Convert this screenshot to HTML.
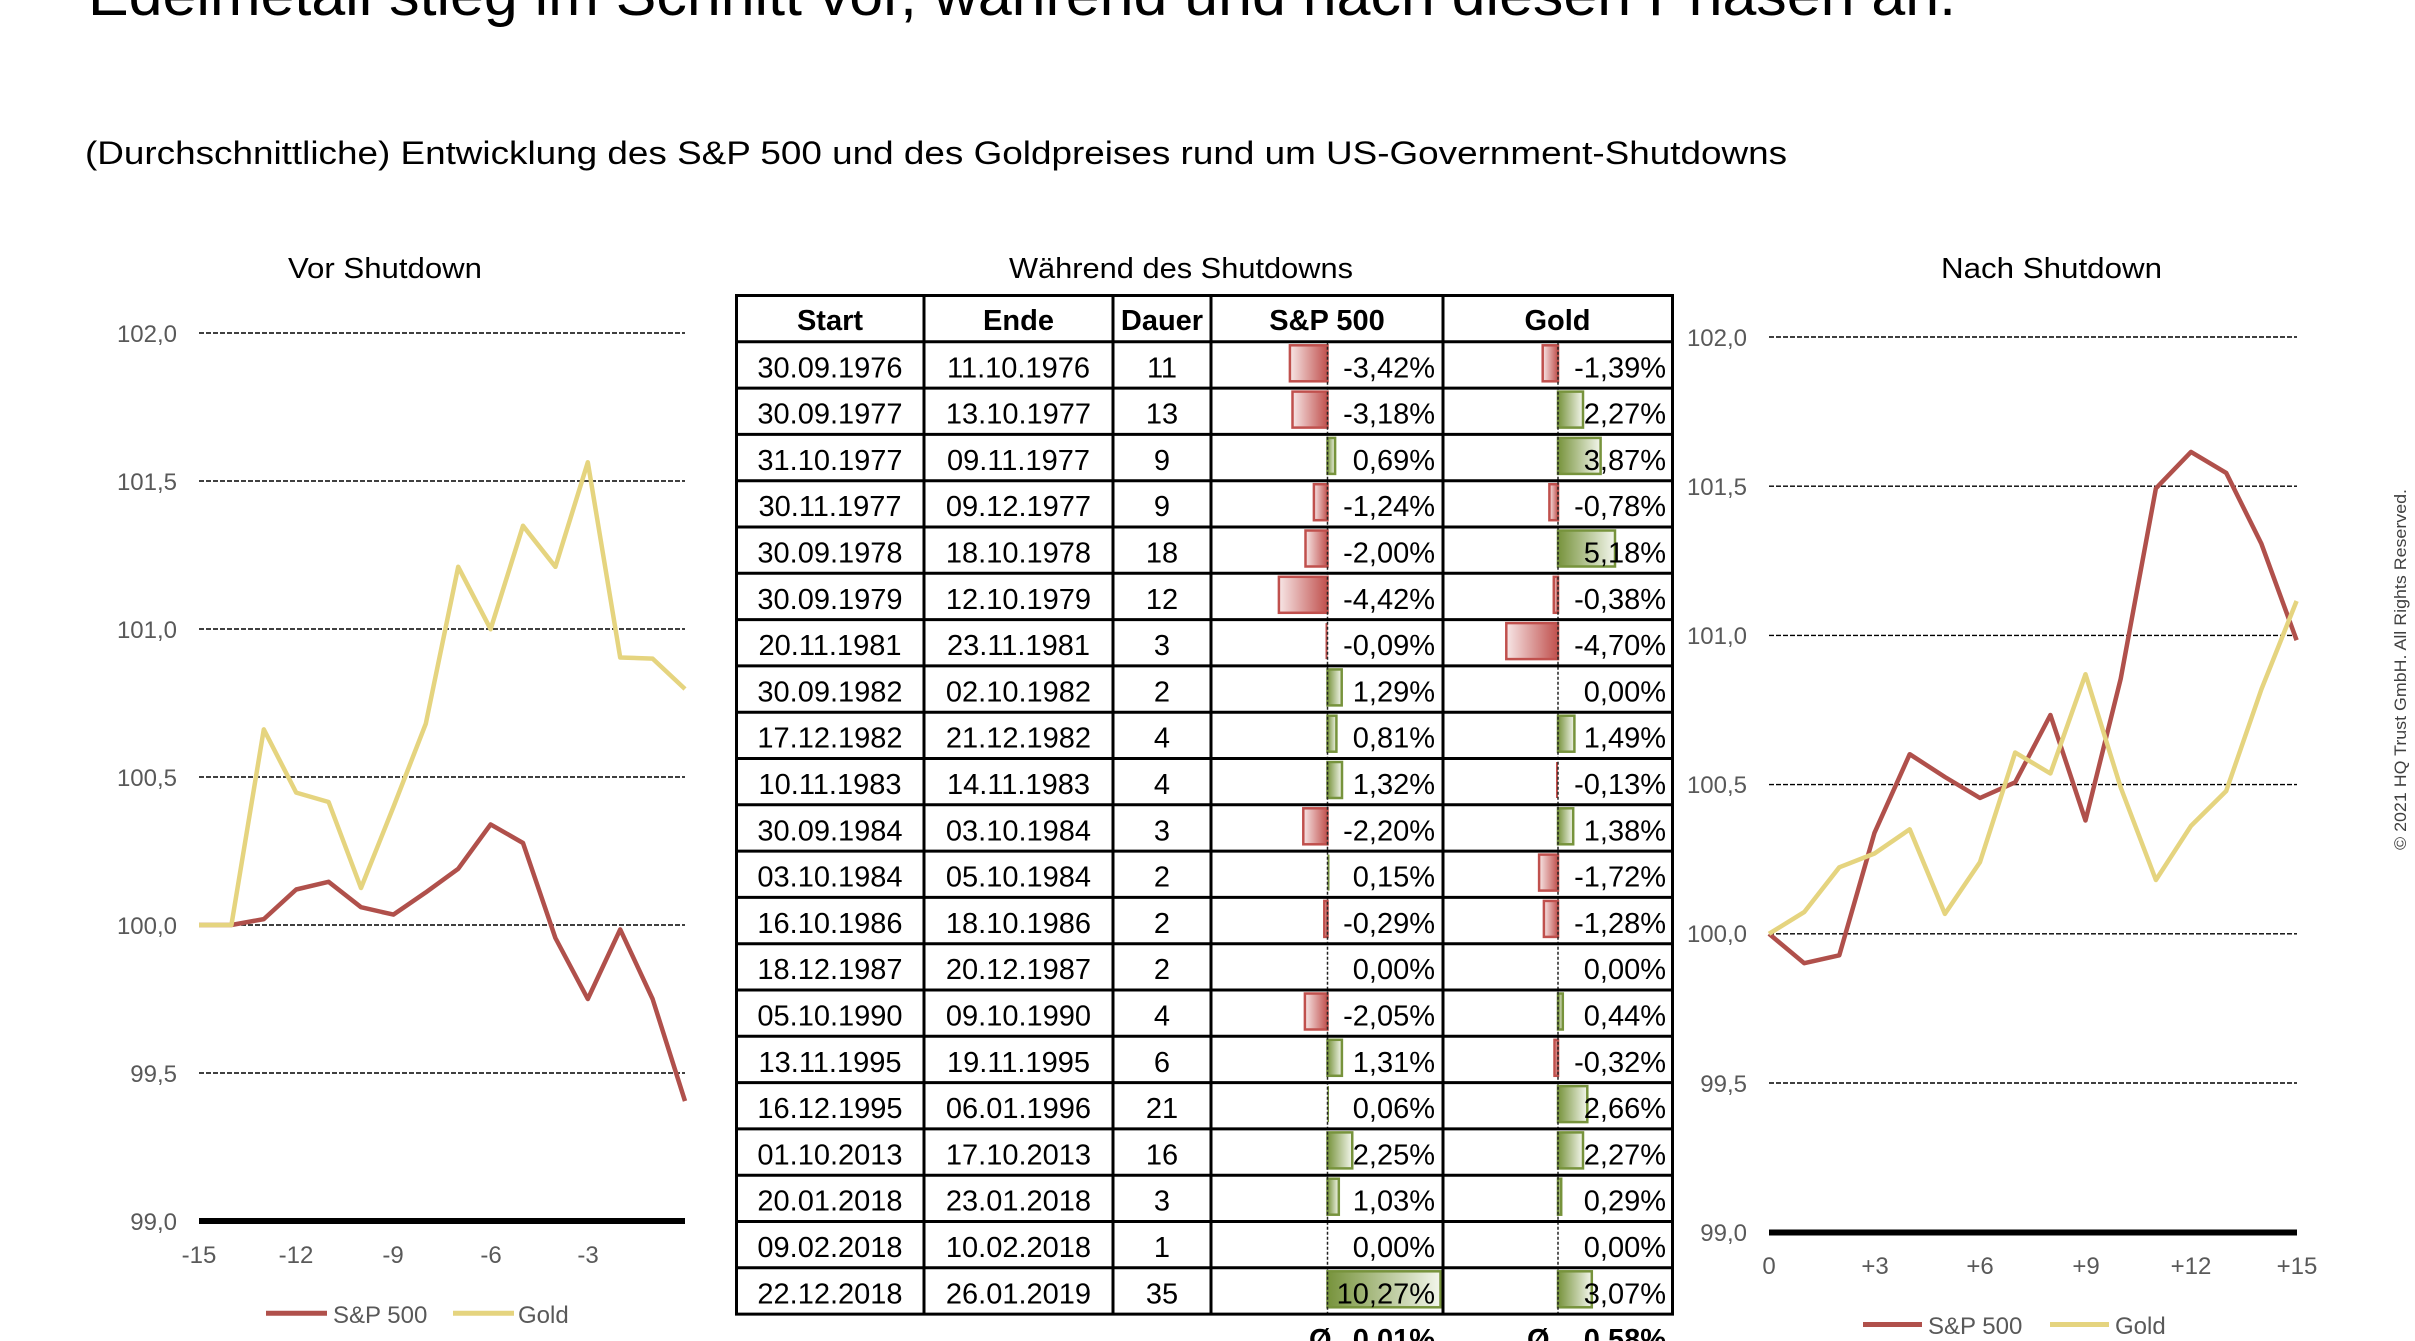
<!DOCTYPE html>
<html>
<head>
<meta charset="utf-8">
<style>
html,body{margin:0;padding:0;background:#fff;}
svg{display:block;}
text{font-family:"Liberation Sans",Arial,sans-serif;}
.ax{font-size:24px;fill:#595959;}
.tb{font-size:29px;fill:#000;}
.th{font-size:29px;fill:#000;font-weight:bold;}
.ct{font-size:29px;fill:#000;}
</style>
</head>
<body>
<svg width="2415" height="1341" viewBox="0 0 2415 1341" xmlns="http://www.w3.org/2000/svg">
<defs>
<linearGradient id="gr" x1="0" x2="1" y1="0" y2="0">
<stop offset="0" stop-color="#f7e6e6"/>
<stop offset="1" stop-color="#c0504d"/>
</linearGradient>
<linearGradient id="gg" x1="0" x2="1" y1="0" y2="0">
<stop offset="0" stop-color="#77933c"/>
<stop offset="1" stop-color="#f3f6ec"/>
</linearGradient>
</defs>
<rect width="2415" height="1341" fill="#fff"/>

<!-- Title -->
<text x="88" y="15" font-size="58" textLength="1868" lengthAdjust="spacingAndGlyphs" fill="#000">Edelmetall stieg im Schnitt vor, während und nach diesen Phasen an.</text>
<text x="85" y="164" font-size="32" textLength="1702" lengthAdjust="spacingAndGlyphs" fill="#000">(Durchschnittliche) Entwicklung des S&amp;P 500 und des Goldpreises rund um US-Government-Shutdowns</text>

<!-- Chart titles -->
<text class="ct" x="288" y="278" textLength="194" lengthAdjust="spacingAndGlyphs">Vor Shutdown</text>
<text class="ct" x="1009" y="278" textLength="344" lengthAdjust="spacingAndGlyphs">Während des Shutdowns</text>
<text class="ct" x="1941" y="278" textLength="221" lengthAdjust="spacingAndGlyphs">Nach Shutdown</text>

<!-- ============ LEFT CHART ============ -->
<g stroke="#000" stroke-width="1.4" stroke-dasharray="5 2">
<line x1="199" y1="333" x2="685" y2="333"/>
<line x1="199" y1="481" x2="685" y2="481"/>
<line x1="199" y1="629" x2="685" y2="629"/>
<line x1="199" y1="777" x2="685" y2="777"/>
<line x1="199" y1="925" x2="685" y2="925"/>
<line x1="199" y1="1073" x2="685" y2="1073"/>
</g>
<line x1="199" y1="1221" x2="685" y2="1221" stroke="#000" stroke-width="6"/>
<g class="ax" text-anchor="end">
<text x="177" y="342">102,0</text>
<text x="177" y="490">101,5</text>
<text x="177" y="638">101,0</text>
<text x="177" y="786">100,5</text>
<text x="177" y="934">100,0</text>
<text x="177" y="1082">99,5</text>
<text x="177" y="1230">99,0</text>
</g>
<g class="ax" text-anchor="middle">
<text x="199" y="1263">-15</text>
<text x="296" y="1263">-12</text>
<text x="393" y="1263">-9</text>
<text x="491" y="1263">-6</text>
<text x="588" y="1263">-3</text>
</g>
<polyline fill="none" stroke="#b0504b" stroke-width="4.5" stroke-linejoin="round" points="199,925 231.4,925 263.8,919.1 296.2,889.5 328.6,881.8 361,907.2 393.4,914.6 425.8,892.4 458.2,868.8 490.6,824.4 523,843 555.4,938 587.8,999 620.2,929.4 652.6,999 685,1101.1"/>
<polyline fill="none" stroke="#e5d47f" stroke-width="4.5" stroke-linejoin="round" points="199,925 231.4,925 263.8,729.4 296.2,792.6 328.6,802 361,888 393.4,807 425.8,723.7 458.2,566.8 490.6,629.2 523,525.8 555.4,566.8 587.8,462.3 620.2,657.5 652.6,658.6 685,689"/>
<line x1="266" y1="1313.3" x2="327" y2="1313.3" stroke="#b0504b" stroke-width="5"/>
<text class="ax" x="333" y="1323">S&amp;P 500</text>
<line x1="453" y1="1313.3" x2="514" y2="1313.3" stroke="#e5d47f" stroke-width="5"/>
<text class="ax" x="518" y="1323">Gold</text>

<!-- ============ RIGHT CHART ============ -->
<g stroke="#000" stroke-width="1.4" stroke-dasharray="5 2">
<line x1="1769" y1="337" x2="2297" y2="337"/>
<line x1="1769" y1="486.2" x2="2297" y2="486.2"/>
<line x1="1769" y1="635.4" x2="2297" y2="635.4"/>
<line x1="1769" y1="784.6" x2="2297" y2="784.6"/>
<line x1="1769" y1="933.8" x2="2297" y2="933.8"/>
<line x1="1769" y1="1083" x2="2297" y2="1083"/>
</g>
<line x1="1769" y1="1232.5" x2="2297" y2="1232.5" stroke="#000" stroke-width="6"/>
<g class="ax" text-anchor="end">
<text x="1747" y="346">102,0</text>
<text x="1747" y="495">101,5</text>
<text x="1747" y="644">101,0</text>
<text x="1747" y="793">100,5</text>
<text x="1747" y="942">100,0</text>
<text x="1747" y="1092">99,5</text>
<text x="1747" y="1241">99,0</text>
</g>
<g class="ax" text-anchor="middle">
<text x="1769" y="1274">0</text>
<text x="1875" y="1274">+3</text>
<text x="1980" y="1274">+6</text>
<text x="2086" y="1274">+9</text>
<text x="2191" y="1274">+12</text>
<text x="2297" y="1274">+15</text>
</g>
<polyline fill="none" stroke="#b0504b" stroke-width="4.5" stroke-linejoin="round" points="1769,933.8 1804.2,963.2 1839.3,955.3 1874.5,832.8 1909.7,754.2 1944.9,777 1980,798 2015.2,782.3 2050.4,715 2085.5,820.5 2120.7,678.8 2155.9,488.4 2191,451.9 2226.2,472.9 2261.4,543.8 2296.6,640.2"/>
<polyline fill="none" stroke="#e5d47f" stroke-width="4.5" stroke-linejoin="round" points="1769,933.8 1804.2,912.1 1839.3,867.3 1874.5,853.5 1909.7,829.3 1944.9,913.9 1980,862.1 2015.2,752.5 2050.4,773.5 2085.5,674.3 2120.7,787.5 2155.9,880 2191,825.9 2226.2,791 2261.4,689.3 2296.6,601"/>
<line x1="1863" y1="1324.5" x2="1922" y2="1324.5" stroke="#b0504b" stroke-width="5"/>
<text class="ax" x="1928" y="1334">S&amp;P 500</text>
<line x1="2050" y1="1324.5" x2="2109" y2="1324.5" stroke="#e5d47f" stroke-width="5"/>
<text class="ax" x="2115" y="1334">Gold</text>

<!-- Copyright -->
<text transform="translate(2406,850) rotate(-90)" font-size="17" fill="#404040" textLength="361" lengthAdjust="spacingAndGlyphs">© 2021 HQ Trust GmbH. All Rights Reserved.</text>

<!-- ============ TABLE ============ -->
<!-- bars S&P (axis 1327.5) -->
<g stroke="#c0504d" stroke-width="2.5" fill="url(#gr)">
<rect x="1289.9" y="345.3" width="37.6" height="36"/>
<rect x="1292.5" y="391.6" width="35" height="36"/>
<rect x="1313.9" y="484.2" width="13.6" height="36"/>
<rect x="1305.5" y="530.5" width="22" height="36"/>
<rect x="1278.9" y="576.8" width="48.6" height="36"/>
<rect x="1303.3" y="808.3" width="24.2" height="36"/>
<rect x="1324.3" y="900.9" width="3.2" height="36"/>
<rect x="1304.9" y="993.5" width="22.6" height="36"/>
</g>
<rect x="1325.5" y="623.1" width="2" height="36" fill="#c0504d"/>
<g stroke="#77933c" stroke-width="2.5" fill="url(#gg)">
<rect x="1327.5" y="437.9" width="7.6" height="36"/>
<rect x="1327.5" y="669.4" width="14.2" height="36"/>
<rect x="1327.5" y="715.7" width="8.9" height="36"/>
<rect x="1327.5" y="762" width="14.5" height="36"/>
<rect x="1327.5" y="1039.8" width="14.4" height="36"/>
<rect x="1327.5" y="1132.4" width="24.75" height="36"/>
<rect x="1327.5" y="1178.7" width="11.3" height="36"/>
<rect x="1327.5" y="1271.3" width="113" height="36"/>
</g>
<rect x="1327.5" y="854.6" width="2" height="36" fill="#77933c"/>
<rect x="1327.5" y="1086.1" width="1.5" height="36" fill="#77933c"/>

<!-- bars Gold (axis 1558) -->
<g stroke="#c0504d" stroke-width="2.5" fill="url(#gr)">
<rect x="1542.7" y="345.3" width="15.3" height="36"/>
<rect x="1549.4" y="484.2" width="8.6" height="36"/>
<rect x="1553.8" y="576.8" width="4.2" height="36"/>
<rect x="1506.3" y="623.1" width="51.7" height="36"/>
<rect x="1539.1" y="854.6" width="18.9" height="36"/>
<rect x="1543.9" y="900.9" width="14.1" height="36"/>
<rect x="1554.5" y="1039.8" width="3.5" height="36"/>
</g>
<rect x="1556" y="762" width="2" height="36" fill="#c0504d"/>
<g stroke="#77933c" stroke-width="2.5" fill="url(#gg)">
<rect x="1558" y="391.6" width="25" height="36"/>
<rect x="1558" y="437.9" width="42.6" height="36"/>
<rect x="1558" y="530.5" width="57" height="36"/>
<rect x="1558" y="715.7" width="16.4" height="36"/>
<rect x="1558" y="808.3" width="15.2" height="36"/>
<rect x="1558" y="993.5" width="4.8" height="36"/>
<rect x="1558" y="1086.1" width="29.3" height="36"/>
<rect x="1558" y="1132.4" width="25" height="36"/>
<rect x="1558" y="1178.7" width="3.2" height="36"/>
<rect x="1558" y="1271.3" width="33.8" height="36"/>
</g>

<!-- dashed zero axes -->
<g stroke="#222" stroke-width="1.5" stroke-dasharray="3 2">
<line x1="1327.5" y1="341.8" x2="1327.5" y2="1314.1"/>
<line x1="1558" y1="341.8" x2="1558" y2="1314.1"/>
</g>

<!-- grid lines -->
<g stroke="#000" stroke-width="3">
<line x1="735" y1="295.5" x2="1674" y2="295.5"/>
<line x1="735" y1="341.8" x2="1674" y2="341.8"/>
<line x1="735" y1="388.1" x2="1674" y2="388.1"/>
<line x1="735" y1="434.4" x2="1674" y2="434.4"/>
<line x1="735" y1="480.7" x2="1674" y2="480.7"/>
<line x1="735" y1="527" x2="1674" y2="527"/>
<line x1="735" y1="573.3" x2="1674" y2="573.3"/>
<line x1="735" y1="619.6" x2="1674" y2="619.6"/>
<line x1="735" y1="665.9" x2="1674" y2="665.9"/>
<line x1="735" y1="712.2" x2="1674" y2="712.2"/>
<line x1="735" y1="758.5" x2="1674" y2="758.5"/>
<line x1="735" y1="804.8" x2="1674" y2="804.8"/>
<line x1="735" y1="851.1" x2="1674" y2="851.1"/>
<line x1="735" y1="897.4" x2="1674" y2="897.4"/>
<line x1="735" y1="943.7" x2="1674" y2="943.7"/>
<line x1="735" y1="990" x2="1674" y2="990"/>
<line x1="735" y1="1036.3" x2="1674" y2="1036.3"/>
<line x1="735" y1="1082.6" x2="1674" y2="1082.6"/>
<line x1="735" y1="1128.9" x2="1674" y2="1128.9"/>
<line x1="735" y1="1175.2" x2="1674" y2="1175.2"/>
<line x1="735" y1="1221.5" x2="1674" y2="1221.5"/>
<line x1="735" y1="1267.8" x2="1674" y2="1267.8"/>
<line x1="735" y1="1314.1" x2="1674" y2="1314.1"/>
<line x1="736.5" y1="294" x2="736.5" y2="1315.5"/>
<line x1="924" y1="294" x2="924" y2="1315.5"/>
<line x1="1113" y1="294" x2="1113" y2="1315.5"/>
<line x1="1211" y1="294" x2="1211" y2="1315.5"/>
<line x1="1443" y1="294" x2="1443" y2="1315.5"/>
<line x1="1672.5" y1="294" x2="1672.5" y2="1315.5"/>
</g>

<!-- header -->
<g class="th" text-anchor="middle">
<text x="830" y="330">Start</text>
<text x="1018.5" y="330">Ende</text>
<text x="1162" y="330">Dauer</text>
<text x="1327" y="330">S&amp;P 500</text>
<text x="1557.5" y="330">Gold</text>
</g>

<!-- Start column -->
<g class="tb" text-anchor="middle">
<text x="830" y="377.3">30.09.1976</text>
<text x="830" y="423.6">30.09.1977</text>
<text x="830" y="469.9">31.10.1977</text>
<text x="830" y="516.2">30.11.1977</text>
<text x="830" y="562.5">30.09.1978</text>
<text x="830" y="608.8">30.09.1979</text>
<text x="830" y="655.1">20.11.1981</text>
<text x="830" y="701.4">30.09.1982</text>
<text x="830" y="747.7">17.12.1982</text>
<text x="830" y="794">10.11.1983</text>
<text x="830" y="840.3">30.09.1984</text>
<text x="830" y="886.6">03.10.1984</text>
<text x="830" y="932.9">16.10.1986</text>
<text x="830" y="979.2">18.12.1987</text>
<text x="830" y="1025.5">05.10.1990</text>
<text x="830" y="1071.8">13.11.1995</text>
<text x="830" y="1118.1">16.12.1995</text>
<text x="830" y="1164.4">01.10.2013</text>
<text x="830" y="1210.7">20.01.2018</text>
<text x="830" y="1257">09.02.2018</text>
<text x="830" y="1303.3">22.12.2018</text>
</g>
<!-- Ende column -->
<g class="tb" text-anchor="middle">
<text x="1018.5" y="377.3">11.10.1976</text>
<text x="1018.5" y="423.6">13.10.1977</text>
<text x="1018.5" y="469.9">09.11.1977</text>
<text x="1018.5" y="516.2">09.12.1977</text>
<text x="1018.5" y="562.5">18.10.1978</text>
<text x="1018.5" y="608.8">12.10.1979</text>
<text x="1018.5" y="655.1">23.11.1981</text>
<text x="1018.5" y="701.4">02.10.1982</text>
<text x="1018.5" y="747.7">21.12.1982</text>
<text x="1018.5" y="794">14.11.1983</text>
<text x="1018.5" y="840.3">03.10.1984</text>
<text x="1018.5" y="886.6">05.10.1984</text>
<text x="1018.5" y="932.9">18.10.1986</text>
<text x="1018.5" y="979.2">20.12.1987</text>
<text x="1018.5" y="1025.5">09.10.1990</text>
<text x="1018.5" y="1071.8">19.11.1995</text>
<text x="1018.5" y="1118.1">06.01.1996</text>
<text x="1018.5" y="1164.4">17.10.2013</text>
<text x="1018.5" y="1210.7">23.01.2018</text>
<text x="1018.5" y="1257">10.02.2018</text>
<text x="1018.5" y="1303.3">26.01.2019</text>
</g>
<!-- Dauer column -->
<g class="tb" text-anchor="middle">
<text x="1162" y="377.3">11</text>
<text x="1162" y="423.6">13</text>
<text x="1162" y="469.9">9</text>
<text x="1162" y="516.2">9</text>
<text x="1162" y="562.5">18</text>
<text x="1162" y="608.8">12</text>
<text x="1162" y="655.1">3</text>
<text x="1162" y="701.4">2</text>
<text x="1162" y="747.7">4</text>
<text x="1162" y="794">4</text>
<text x="1162" y="840.3">3</text>
<text x="1162" y="886.6">2</text>
<text x="1162" y="932.9">2</text>
<text x="1162" y="979.2">2</text>
<text x="1162" y="1025.5">4</text>
<text x="1162" y="1071.8">6</text>
<text x="1162" y="1118.1">21</text>
<text x="1162" y="1164.4">16</text>
<text x="1162" y="1210.7">3</text>
<text x="1162" y="1257">1</text>
<text x="1162" y="1303.3">35</text>
</g>
<!-- S&P column -->
<g class="tb" text-anchor="end">
<text x="1435" y="377.3">-3,42%</text>
<text x="1435" y="423.6">-3,18%</text>
<text x="1435" y="469.9">0,69%</text>
<text x="1435" y="516.2">-1,24%</text>
<text x="1435" y="562.5">-2,00%</text>
<text x="1435" y="608.8">-4,42%</text>
<text x="1435" y="655.1">-0,09%</text>
<text x="1435" y="701.4">1,29%</text>
<text x="1435" y="747.7">0,81%</text>
<text x="1435" y="794">1,32%</text>
<text x="1435" y="840.3">-2,20%</text>
<text x="1435" y="886.6">0,15%</text>
<text x="1435" y="932.9">-0,29%</text>
<text x="1435" y="979.2">0,00%</text>
<text x="1435" y="1025.5">-2,05%</text>
<text x="1435" y="1071.8">1,31%</text>
<text x="1435" y="1118.1">0,06%</text>
<text x="1435" y="1164.4">2,25%</text>
<text x="1435" y="1210.7">1,03%</text>
<text x="1435" y="1257">0,00%</text>
<text x="1435" y="1303.3">10,27%</text>
</g>
<!-- Gold column -->
<g class="tb" text-anchor="end">
<text x="1666" y="377.3">-1,39%</text>
<text x="1666" y="423.6">2,27%</text>
<text x="1666" y="469.9">3,87%</text>
<text x="1666" y="516.2">-0,78%</text>
<text x="1666" y="562.5">5,18%</text>
<text x="1666" y="608.8">-0,38%</text>
<text x="1666" y="655.1">-4,70%</text>
<text x="1666" y="701.4">0,00%</text>
<text x="1666" y="747.7">1,49%</text>
<text x="1666" y="794">-0,13%</text>
<text x="1666" y="840.3">1,38%</text>
<text x="1666" y="886.6">-1,72%</text>
<text x="1666" y="932.9">-1,28%</text>
<text x="1666" y="979.2">0,00%</text>
<text x="1666" y="1025.5">0,44%</text>
<text x="1666" y="1071.8">-0,32%</text>
<text x="1666" y="1118.1">2,66%</text>
<text x="1666" y="1164.4">2,27%</text>
<text x="1666" y="1210.7">0,29%</text>
<text x="1666" y="1257">0,00%</text>
<text x="1666" y="1303.3">3,07%</text>
</g>

<!-- averages (clipped at bottom) -->
<g class="th">
<text x="1309" y="1349">Ø</text>
<text x="1435" y="1349" text-anchor="end">0,01%</text>
<text x="1527" y="1349">Ø</text>
<text x="1666" y="1349" text-anchor="end">0,58%</text>
</g>
</svg>
</body>
</html>
